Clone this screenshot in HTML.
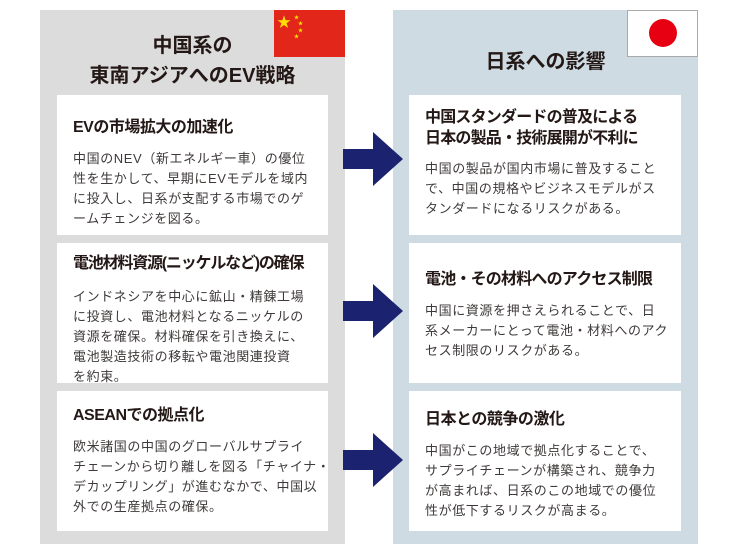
<!DOCTYPE html>
<html><head><meta charset="utf-8"><style>
*{margin:0;padding:0;box-sizing:border-box}
body{width:740px;height:551px;background:#fff;position:relative;font-family:"Liberation Sans","Noto Sans CJK JP",sans-serif;color:#231815;overflow:hidden}
.panel{position:absolute;top:10px;height:534px}
.l{left:40px;width:305px;background:#dcdcdd}
.r{left:393px;width:305px;background:#cedbe3}
.h{position:absolute;font-weight:bold;font-size:20px;text-align:center;line-height:30px}
.card{position:absolute;background:#fff;padding:20px 16px;white-space:nowrap}
.card h3{font-size:16px;font-weight:bold;line-height:22px;margin-bottom:10px;letter-spacing:-0.5px}
.card p{font-size:13px;line-height:20px;letter-spacing:0.6px;color:#3e3a39}
.arrow{position:absolute;left:343px;width:60px;height:54px}
</style></head><body>
<div class="panel l"></div>
<div class="panel r"></div>
<div style="position:absolute;left:274px;top:10px;width:71px;height:47px;background:#e2261a"></div>
<svg style="position:absolute;left:274px;top:10px" width="71" height="47">
<text x="3" y="17" font-size="14" fill="#ffe000">★</text>
<text x="20" y="9" font-size="5" fill="#ffe000">★</text>
<text x="24" y="15" font-size="5" fill="#ffe000">★</text>
<text x="24" y="22" font-size="5" fill="#ffe000">★</text>
<text x="20" y="28" font-size="5" fill="#ffe000">★</text>
</svg>
<div style="position:absolute;left:627px;top:10px;width:71px;height:47px;background:#fff;border:1px solid #aaa"></div>
<div style="position:absolute;left:649px;top:19px;width:28px;height:28px;border-radius:50%;background:#e60012"></div>
<div class="h" style="left:40px;width:305px;top:31px">中国系の<br>東南アジアへのEV戦略</div>
<div class="h" style="left:393px;width:305px;top:47px">日系への影響</div>

<div class="card" style="left:57px;top:95px;width:271px;height:140px;padding-top:22px"><h3>EVの市場拡大の加速化</h3><p>中国のNEV（新エネルギー車）の優位<br>性を生かして、早期にEVモデルを域内<br>に投入し、日系が支配する市場でのゲ<br>ームチェンジを図る。</p></div>
<div class="card" style="left:57px;top:243px;width:271px;height:140px;padding-top:10px"><h3 style="letter-spacing:-1.2px;margin-bottom:12px">電池材料資源(ニッケルなど)の確保</h3><p>インドネシアを中心に鉱山・精錬工場<br>に投資し、電池材料となるニッケルの<br>資源を確保。材料確保を引き換えに、<br>電池製造技術の移転や電池関連投資<br>を約束。</p></div>
<div class="card" style="left:57px;top:391px;width:271px;height:140px;padding-top:14px"><h3>ASEANでの拠点化</h3><p>欧米諸国の中国のグローバルサプライ<br>チェーンから切り離しを図る「チャイナ・<br>デカップリング」が進むなかで、中国以<br>外での生産拠点の確保。</p></div>

<div class="card" style="left:409px;top:95px;width:272px;height:140px;padding-top:12px"><h3 style="line-height:21px;letter-spacing:-0.8px">中国スタンダードの普及による<br>日本の製品・技術展開が不利に</h3><p>中国の製品が国内市場に普及すること<br>で、中国の規格やビジネスモデルがス<br>タンダードになるリスクがある。</p></div>
<div class="card" style="left:409px;top:243px;width:272px;height:140px;padding-top:26px"><h3 style="letter-spacing:-0.8px">電池・その材料へのアクセス制限</h3><p>中国に資源を押さえられることで、日<br>系メーカーにとって電池・材料へのアク<br>セス制限のリスクがある。</p></div>
<div class="card" style="left:409px;top:391px;width:272px;height:140px;padding-top:18px"><h3>日本との競争の激化</h3><p>中国がこの地域で拠点化することで、<br>サプライチェーンが構築され、競争力<br>が高まれば、日系のこの地域での優位<br>性が低下するリスクが高まる。</p></div>

<svg class="arrow" style="top:132px" viewBox="0 0 60 54"><polygon points="0,17 30,17 30,0 60,27 30,54 30,37 0,37" fill="#1b2270"/></svg>
<svg class="arrow" style="top:284px" viewBox="0 0 60 54"><polygon points="0,17 30,17 30,0 60,27 30,54 30,37 0,37" fill="#1b2270"/></svg>
<svg class="arrow" style="top:433px" viewBox="0 0 60 54"><polygon points="0,17 30,17 30,0 60,27 30,54 30,37 0,37" fill="#1b2270"/></svg>
</body></html>
